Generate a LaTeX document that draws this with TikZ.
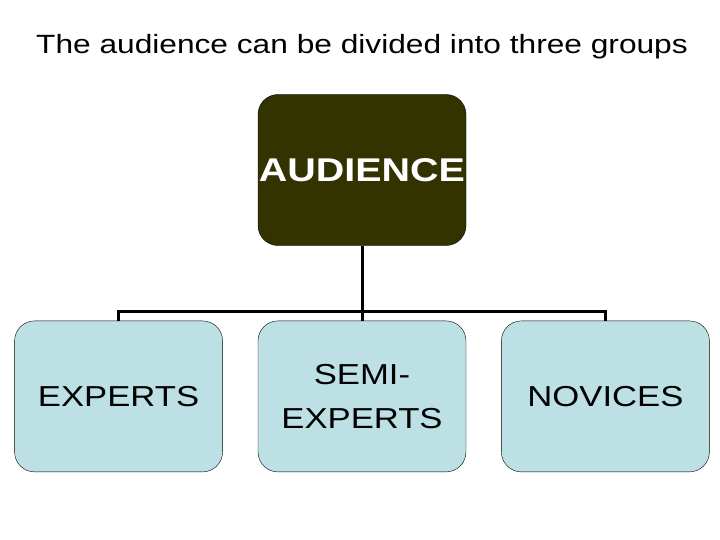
\documentclass[tikz,border=0pt]{standalone}
\usepackage{fontspec}
\setmainfont{Liberation Sans}
\newfontfamily\widefont[FakeStretch=1.2]{Liberation Sans}
\usetikzlibrary{positioning,calc}
\definecolor{olivedark}{RGB}{51,51,0}
\definecolor{paleblue}{RGB}{188,224,228}
\tikzset{root/.style={draw=black, fill=olivedark, rounded corners=20bp,
                      minimum width=208bp, minimum height=151bp, inner sep=0pt,
                      text=white, font=\widefont\fontsize{33}{40}\selectfont\bfseries},
         kid/.style={draw=black, fill=paleblue, rounded corners=20bp,
                     minimum width=208bp, minimum height=151bp, inner sep=0pt,
                     align=center, font=\widefont\fontsize{29}{44}\selectfont}}
\tikzstyle{link} = [draw, line width=3bp, black]

\begin{document}
\begin{tikzpicture}[x=1bp, y=-1bp]
    \useasboundingbox (0,0) rectangle (720,540);
    \node[font=\widefont\fontsize{26.5}{30}\selectfont] (title) at (362,47)
        {The audience can be divided into three groups};
    \node[root] (aud) at (362,170) {AUDIENCE};
    \node[kid, below=75bp of aud] (semi) {SEMI-\\EXPERTS};
    \node[kid, left=35bp of semi] (exp) {EXPERTS};
    \node[kid, right=35bp of semi] (nov) {NOVICES};

    \coordinate (bus) at ($(aud.south)!0.88!(semi.north)$);
    \path[link] (aud.south) -- (semi.north);
    \path[link] (exp.north) -- (exp.north |- bus) -- (nov.north |- bus) -- (nov.north);
\end{tikzpicture}
\end{document}
